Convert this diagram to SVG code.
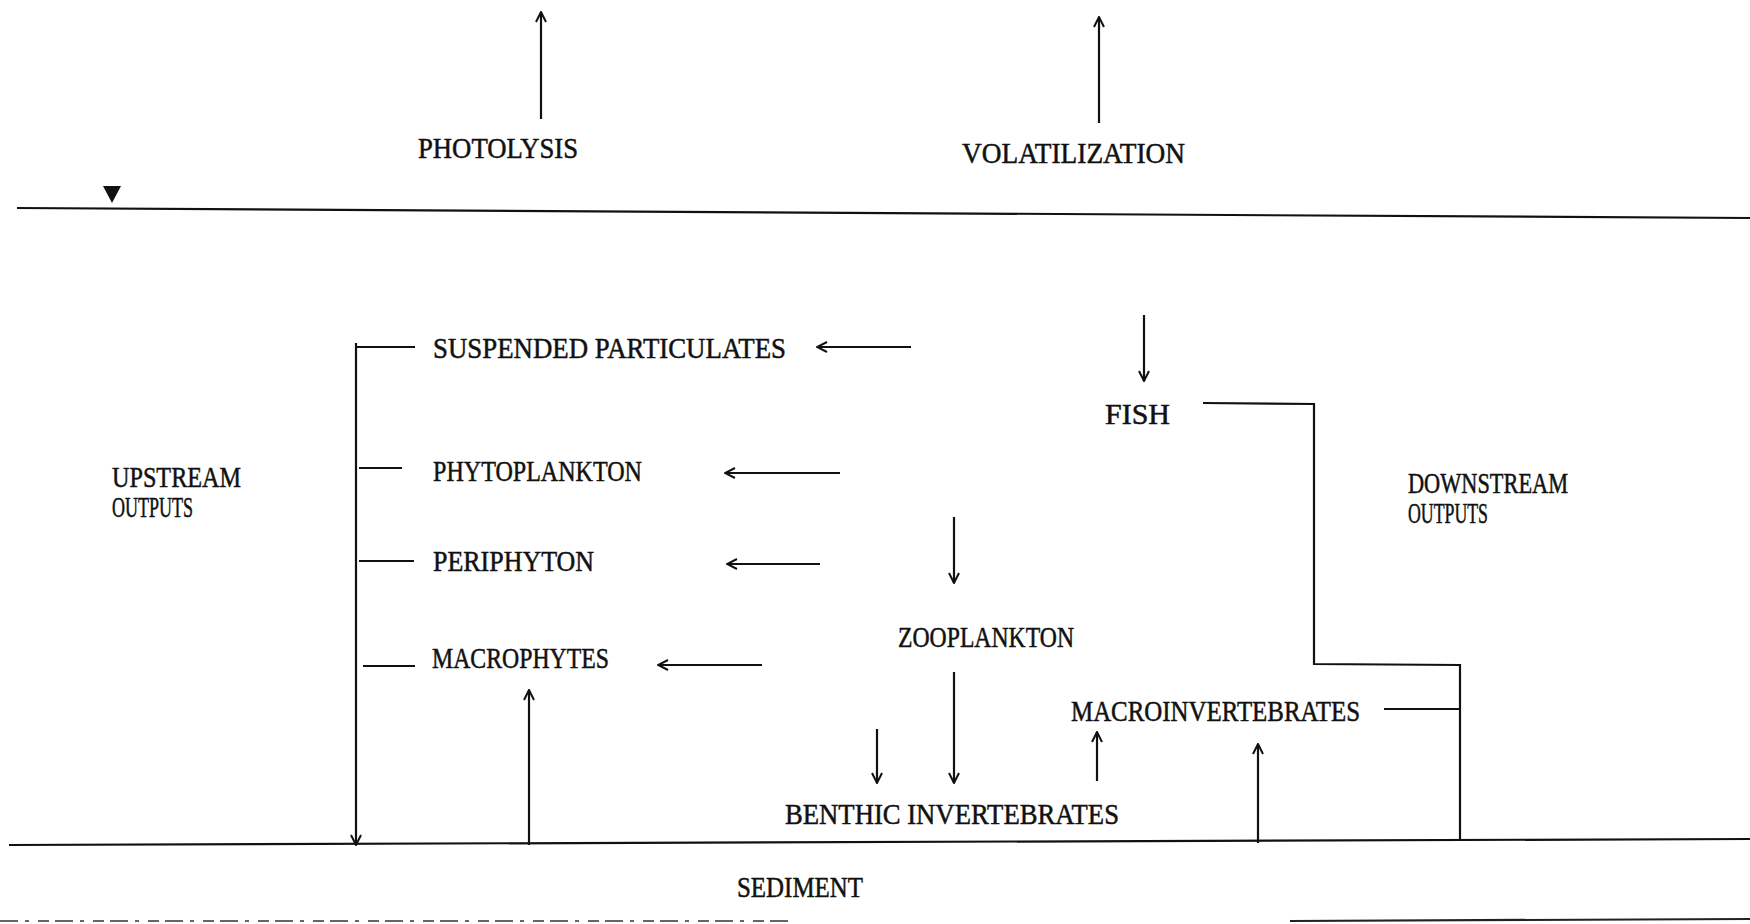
<svg xmlns="http://www.w3.org/2000/svg" width="1750" height="924" viewBox="0 0 1750 924">
<style>
.t{font-family:"Liberation Serif","Times New Roman",serif;font-size:29px;fill:#111;stroke:#111;stroke-width:0.5;}
.l{stroke:#111;stroke-width:2.2;fill:none;}
.a{stroke:#111;stroke-width:2.2;fill:none;marker-end:url(#ah);}
</style>
<defs>
<marker id="ah" viewBox="0 0 12 12" refX="11" refY="6" markerWidth="12" markerHeight="12" markerUnits="userSpaceOnUse" orient="auto">
<path d="M1,1 L11,6 L1,11" stroke="#111" stroke-width="2" fill="none"/>
</marker>
</defs>
<rect width="1750" height="924" fill="#fff"/>
<g id="surface">
<line class="l" x1="17" y1="208" x2="1750" y2="218"/>
<polygon points="103,186 121,186 112,203" fill="#111"/>
</g>
<g id="sediment-line">
<line class="l" x1="9" y1="845" x2="1750" y2="839"/>
<line x1="0" y1="921" x2="790" y2="921" stroke="#333" stroke-width="1.5" stroke-dasharray="18 7 4 9 11 6"/>
<line x1="1290" y1="921" x2="1750" y2="919" stroke="#222" stroke-width="2.2"/>
</g>
<g id="connectors">
<line class="a" x1="541" y1="119" x2="541" y2="12"/>
<line class="a" x1="1099" y1="123" x2="1099" y2="17"/>
<polyline class="a" points="356,343 356,845"/>
<line class="l" x1="356" y1="347" x2="415" y2="347"/>
<line class="l" x1="359" y1="468" x2="402" y2="468"/>
<line class="l" x1="359" y1="561" x2="414" y2="561"/>
<line class="l" x1="363" y1="666" x2="415" y2="666"/>
<line class="a" x1="911" y1="347" x2="817" y2="347"/>
<line class="a" x1="840" y1="473" x2="725" y2="473"/>
<line class="a" x1="820" y1="564" x2="727" y2="564"/>
<line class="a" x1="762" y1="665" x2="658" y2="665"/>
<line class="a" x1="529" y1="845" x2="529" y2="690"/>
<line class="a" x1="1144" y1="315" x2="1144" y2="381"/>
<polyline class="l" points="1203,403 1314,404 1314,664 1460,665 1460,840"/>
<line class="l" x1="1384" y1="709" x2="1460" y2="709"/>
<line class="a" x1="954" y1="517" x2="954" y2="583"/>
<line class="a" x1="954" y1="672" x2="954" y2="783"/>
<line class="a" x1="877" y1="729" x2="877" y2="783"/>
<line class="a" x1="1097" y1="781" x2="1097" y2="732"/>
<line class="a" x1="1258" y1="843" x2="1258" y2="744"/>
</g>
<g id="photolysis"><text class="t" x="418" y="158" textLength="160" lengthAdjust="spacingAndGlyphs">PHOTOLYSIS</text></g>
<g id="volatilization"><text class="t" x="962" y="163" textLength="223" lengthAdjust="spacingAndGlyphs">VOLATILIZATION</text></g>
<g id="suspended"><text class="t" x="433" y="358" textLength="353" lengthAdjust="spacingAndGlyphs">SUSPENDED PARTICULATES</text></g>
<g id="phytoplankton"><text class="t" x="433" y="481" textLength="209" lengthAdjust="spacingAndGlyphs">PHYTOPLANKTON</text></g>
<g id="periphyton"><text class="t" x="433" y="571" textLength="161" lengthAdjust="spacingAndGlyphs">PERIPHYTON</text></g>
<g id="macrophytes"><text class="t" x="432" y="668" textLength="177" lengthAdjust="spacingAndGlyphs">MACROPHYTES</text></g>
<g id="upstream"><text class="t" x="112" y="487" textLength="129" lengthAdjust="spacingAndGlyphs">UPSTREAM</text><text class="t" x="112" y="517" textLength="81" lengthAdjust="spacingAndGlyphs">OUTPUTS</text></g>
<g id="fish"><text class="t" x="1105" y="424" textLength="65" lengthAdjust="spacingAndGlyphs">FISH</text></g>
<g id="downstream"><text class="t" x="1408" y="493" textLength="160" lengthAdjust="spacingAndGlyphs">DOWNSTREAM</text><text class="t" x="1408" y="523" textLength="80" lengthAdjust="spacingAndGlyphs">OUTPUTS</text></g>
<g id="zooplankton"><text class="t" x="898" y="647" textLength="176" lengthAdjust="spacingAndGlyphs">ZOOPLANKTON</text></g>
<g id="macroinvertebrates"><text class="t" x="1071" y="721" textLength="289" lengthAdjust="spacingAndGlyphs">MACROINVERTEBRATES</text></g>
<g id="benthic"><text class="t" x="785" y="824" textLength="334" lengthAdjust="spacingAndGlyphs">BENTHIC INVERTEBRATES</text></g>
<g id="sediment"><text class="t" x="737" y="897" textLength="126" lengthAdjust="spacingAndGlyphs">SEDIMENT</text></g>
</svg>
